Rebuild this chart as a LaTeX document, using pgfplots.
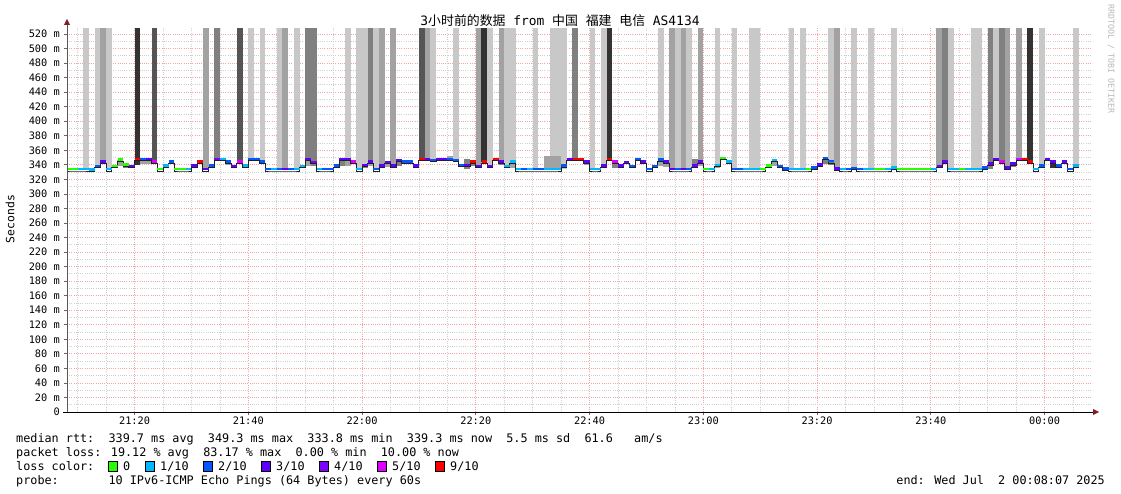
\documentclass[border=0pt]{standalone}
\usepackage{pgfplots}
\pgfplotsset{compat=1.18}
\usepackage{pgfplotstable}
\usepackage{fontspec}
\setmainfont{DejaVu Sans Mono}
\newfontfamily\cjk{Noto Sans CJK SC}

\definecolor{lc0}{HTML}{26FF00}
\definecolor{lc1}{HTML}{00B8FF}
\definecolor{lc2}{HTML}{0059FF}
\definecolor{lc3}{HTML}{5E00FF}
\definecolor{lc4}{HTML}{7E00FF}
\definecolor{lc5}{HTML}{DD00FF}
\definecolor{lc6}{HTML}{FF0000}
\definecolor{sm1}{HTML}{C8C8C8}
\definecolor{sm2}{HTML}{A2A2A2}
\definecolor{sm3}{HTML}{808080}
\definecolor{sm5}{HTML}{555555}
\definecolor{sm6}{HTML}{333333}
\definecolor{medline}{HTML}{202020}
\definecolor{arrowred}{HTML}{7F2020}
\definecolor{mgrid}{HTML}{F4A4A4}
\definecolor{ngrid}{HTML}{CFCFCF}

% s = minute after 21:00 at which the step starts, v = median (ms),
% loss = loss bucket (0..6), top = shade of the smoke that runs to the top
\pgfplotstableread{
s v loss top
8 334 0 0
9 334 0 0
10 334 1 0
11 334 1 1
12 333.8 1 0
13 338.4 2 1
14 344.2 3 2
15 334 1 1
16 338.4 0 0
17 347.3 0 0
18 340.6 0 0
19 338.4 3 0
20 348.2 6 6
21 348.2 2 0
22 348.2 3 0
23 344.2 5 5
24 334 0 0
25 339.3 1 0
26 344.2 2 0
27 334 0 0
28 334 0 0
29 334 1 0
30 339.3 3 0
31 344.2 6 0
32 334 3 2
33 339.3 2 0
34 348.2 4 3
35 348.2 1 0
36 344.2 2 0
37 338.4 3 0
38 344.2 5 5
39 339.3 1 0
40 348.2 2 1
41 348.2 2 0
42 344.2 2 1
43 334 2 0
44 334 1 0
45 334 2 1
46 334 3 2
47 334 2 0
48 334 1 1
49 338.4 1 0
50 348.2 3 3
51 343.7 4 3
52 334 1 0
53 334 2 0
54 334 2 0
55 339.3 2 0
56 348.2 3 0
57 348.2 3 1
58 344.2 5 0
59 334 1 1
60 339.8 3 1
61 344.2 3 3
62 334 2 1
63 339.3 3 2
64 343.7 3 0
65 339.3 3 2
66 346.4 3 0
67 344.2 2 0
68 344.2 2 0
69 339.3 3 0
70 348.2 6 5
71 348.2 3 2
72 346.4 2 1
73 348.2 3 0
74 348.2 3 0
75 348.2 2 0
76 346.4 2 1
77 339.8 2 0
78 339.8 3 0
79 344.2 6 0
80 338.4 3 2
81 344.2 6 6
82 338.4 3 1
83 348.2 6 0
84 344.2 3 2
85 338.4 1 1
86 344.2 1 1
87 334 1 0
88 334 2 0
89 334 1 0
90 334 2 1
91 334 2 0
92 334 1 0
93 334 1 1
94 334 1 1
95 339.3 2 1
96 348.2 3 0
97 348.2 6 3
98 348.2 6 0
99 344.2 3 0
100 334 1 1
101 334 1 0
102 339.3 3 1
103 348.2 6 6
104 344.2 5 0
105 339.3 3 0
106 343.7 3 0
107 338.4 2 0
108 348.2 2 0
109 344.2 3 0
110 334 2 0
111 338.4 2 0
112 347.3 2 1
113 344.2 3 0
114 334 3 2
115 334 2 1
116 334 3 2
117 334 2 1
118 339.3 3 0
119 344.2 3 2
120 334 0 0
121 334 1 0
122 339.8 1 1
123 349.5 0 0
124 344.2 1 0
125 334 2 1
126 334 2 0
127 334 1 0
128 334 1 1
129 334 1 1
130 334 0 0
131 339.3 0 0
132 346.4 1 0
133 338.4 2 0
134 334.9 2 0
135 334 1 1
136 334 1 0
137 334 1 1
138 334 0 0
139 336.2 2 0
140 340.6 3 0
141 349.5 2 0
142 345 2 1
143 334.9 3 2
144 334 1 0
145 334 2 0
146 335.8 2 1
147 334 2 0
148 334 1 0
149 334 1 1
150 334 0 0
151 334 0 0
152 334 1 0
153 336.2 1 1
154 334 0 0
155 334 0 0
156 334 0 0
157 334 0 0
158 334 0 0
159 334 0 0
160 334 1 0
161 338.4 3 2
162 344.2 3 3
163 334 1 1
164 334 1 0
165 334 0 0
166 334 1 0
167 334 1 1
168 334 1 1
169 336.2 2 0
170 341.5 3 3
171 348.2 3 1
172 344.2 5 3
173 336.2 3 2
174 341.5 3 0
175 348.2 5 2
176 348.2 6 0
177 344.2 6 6
178 334 1 0
179 339.3 2 1
180 348.2 3 0
181 344.2 3 0
182 339.3 2 0
183 344.2 3 0
184 334 2 0
185 339.3 1 1
186 339.3 -1 0
}\data

% smoke close to the median: step start, low, high, shade
\pgfplotstableread{
s lo hi sh
13 335 338 1
17 339 347 2
18 336 341 3
19 335 338 3
20 340 348 6
21 341 348 2
22 341 348 2
25 335 339 1
33 335 339 2
36 340 344 2
37 335 338 3
50 339 348 2
51 338 343 3
55 336 339 2
56 339 348 3
57 339 348 2
60 336 340 3
61 338 344 2
63 335 339 3
64 337 343 2
65 335 339 3
66 338 346 3
69 335 339 3
75 348 352 2
78 334 348 3
79 338 344 3
82 335 338 2
84 340 344 3
85 335 338 2
86 336 344 2
92 334 352 2
93 334 352 2
94 334 352 2
95 334 339 1
99 340 344 2
104 336 344 3
105 335 339 2
112 339 347 2
113 337 344 2
118 339 348 3
119 338 344 2
122 335 340 2
131 335 339 1
132 338 346 2
133 336 338 2
140 337 341 2
141 341 349 3
142 340 345 3
161 335 338 2
170 334 341 3
173 335 336 2
174 337 341 3
181 335 344 6
182 336 339 2
}\lowsmoke

\pgfplotsset{
  topsmoke/.style={draw=none, mark=none, forget plot,
    restrict expr to domain={\thisrow{top}}{#1:#1},
    error bars/.cd, y dir=plus, y fixed=600, error mark=none,
    error bar style={line width=5.75pt, draw=sm#1, solid}},
  nearsmoke/.style={draw=none, mark=none, forget plot,
    restrict expr to domain={\thisrow{sh}}{#1:#1},
    error bars/.cd, y dir=plus, y explicit, error mark=none,
    error bar style={line width=5.75pt, draw=sm#1, solid}},
  lossband/.style={draw=none, mark=none, forget plot,
    restrict expr to domain={\thisrow{loss}}{#1:#1},
    error bars/.cd, x dir=plus, x fixed=1, error mark=none,
    error bar style={line width=2.6pt, draw=lc#1, solid}},
}

\begin{document}
\begin{tikzpicture}
\useasboundingbox (0,0) rectangle (1121pt,-494pt);

\begin{axis}[
  at={(67pt,-412pt)}, anchor=south west,
  scale only axis, width=1023.75pt, height=384pt,
  xmin=8.117, xmax=188.117, ymin=0, ymax=528.2,
  axis line style={draw=none},
  xtick={20,40,...,180},
  xticklabels={21:20,21:40,22:00,22:20,22:40,23:00,23:20,23:40,00:00},
  minor xtick={10,15,25,30,35,45,50,55,65,70,75,85,90,95,105,110,115,125,130,135,145,150,155,165,170,175,185},
  ytick={0,20,...,520},
  yticklabels={0,20 m,40 m,60 m,80 m,100 m,120 m,140 m,160 m,180 m,200 m,220 m,240 m,260 m,280 m,300 m,320 m,340 m,360 m,380 m,400 m,420 m,440 m,460 m,480 m,500 m,520 m},
  minor ytick={10,30,...,510},
  xtick pos=bottom, ytick pos=left,
  grid=both,
  minor grid style={draw=ngrid, line width=0.75pt, dash pattern=on 1pt off 1.2pt},
  major grid style={draw=mgrid, line width=0.75pt, dash pattern=on 1pt off 1.2pt},
  tick align=outside, major tick length=3pt, minor tick length=0pt,
  tick style={draw=black!60, line width=0.8pt},
  xticklabel style={font=\fontsize{10.3}{12}\selectfont, inner sep=0pt, anchor=north, yshift=-2pt},
  yticklabel style={font=\fontsize{10.3}{12}\selectfont, inner sep=0pt, anchor=east, xshift=-4pt},
]
\addplot[topsmoke=1] table[x expr=\thisrow{s}+0.5, y=v] {\data};
\addplot[topsmoke=2] table[x expr=\thisrow{s}+0.5, y=v] {\data};
\addplot[topsmoke=3] table[x expr=\thisrow{s}+0.5, y=v] {\data};
\addplot[topsmoke=5] table[x expr=\thisrow{s}+0.5, y=v] {\data};
\addplot[topsmoke=6] table[x expr=\thisrow{s}+0.5, y=v] {\data};

\addplot[nearsmoke=1] table[x expr=\thisrow{s}+0.5, y=lo, y error expr=\thisrow{hi}-\thisrow{lo}] {\lowsmoke};
\addplot[nearsmoke=2] table[x expr=\thisrow{s}+0.5, y=lo, y error expr=\thisrow{hi}-\thisrow{lo}] {\lowsmoke};
\addplot[nearsmoke=3] table[x expr=\thisrow{s}+0.5, y=lo, y error expr=\thisrow{hi}-\thisrow{lo}] {\lowsmoke};
\addplot[nearsmoke=6] table[x expr=\thisrow{s}+0.5, y=lo, y error expr=\thisrow{hi}-\thisrow{lo}] {\lowsmoke};

\addplot[const plot mark left, mark=none, draw=medline, line width=1pt, forget plot]
  table[x=s, y expr=\thisrow{v}-2.5] {\data};

\addplot[lossband=0] table[x=s, y=v] {\data};
\addplot[lossband=1] table[x=s, y=v] {\data};
\addplot[lossband=2] table[x=s, y=v] {\data};
\addplot[lossband=3] table[x=s, y=v] {\data};
\addplot[lossband=4] table[x=s, y=v] {\data};
\addplot[lossband=5] table[x=s, y=v] {\data};
\addplot[lossband=6] table[x=s, y=v] {\data};
\end{axis}

% axis lines with arrows
\draw[draw=black!65, line width=1pt] (67pt,-412pt) -- (67pt,-24pt);
\fill[arrowred] (64pt,-25pt) -- (70pt,-25pt) -- (67pt,-19pt) -- cycle;
\draw[draw=black, line width=1pt] (63pt,-412pt) -- (1093pt,-412pt);
\fill[arrowred] (1093pt,-409pt) -- (1093pt,-415pt) -- (1099pt,-412pt) -- cycle;

% title, unit, watermark
\node[anchor=base, inner sep=0pt, font=\fontsize{12.9}{14}\selectfont] at (560pt,-26pt)
  {3{\cjk 小时前的数据} from {\cjk 中国} {\cjk 福建} {\cjk 电信} AS4134};
\node[rotate=90, inner sep=0pt, font=\fontsize{11.4}{13}\selectfont] at (10pt,-219pt) {Seconds};
\node[rotate=-90, inner sep=0pt, text=black!28, font=\fontsize{8.3}{9}\selectfont] at (1111pt,-59pt)
  {RRDTOOL / TOBI OETIKER};

% legend lines
\begin{scope}[every node/.style={anchor=base west, inner sep=0pt, font=\fontsize{11.8}{13}\selectfont}]
\node at (16pt,-442pt) {median rtt:\ \ 339.7 ms avg\ \ 349.3 ms max\ \ 333.8 ms min\ \ 339.3 ms now\ \ 5.5 ms sd\ \ 61.6\ \ \ am/s};
\node at (16pt,-456pt) {packet loss: 19.12 \% avg\ \ 83.17 \% max\ \ 0.00 \% min\ \ 10.00 \% now};
\node at (16pt,-470pt) {loss color:};
\node at (123pt,-470pt) {0};
\node at (160pt,-470pt) {1/10};
\node at (218pt,-470pt) {2/10};
\node at (276pt,-470pt) {3/10};
\node at (334pt,-470pt) {4/10};
\node at (392pt,-470pt) {5/10};
\node at (450pt,-470pt) {9/10};
\node at (16pt,-484pt) {probe:\ \ \ \ \ \ \ 10 IPv6-ICMP Echo Pings (64 Bytes) every 60s};
\node[anchor=base east] at (1105pt,-484pt) {end: Wed Jul\ \ 2 00:08:07 2025};
\end{scope}
\foreach \xx/\cc in {108/lc0,145.5/lc1,203.5/lc2,261.5/lc3,319.5/lc4,377.5/lc5,435.5/lc6}
  \filldraw[fill=\cc, draw=black, line width=0.8pt] (\xx pt,-461pt) rectangle ++(9pt,-10pt);
\end{tikzpicture}
\end{document}
